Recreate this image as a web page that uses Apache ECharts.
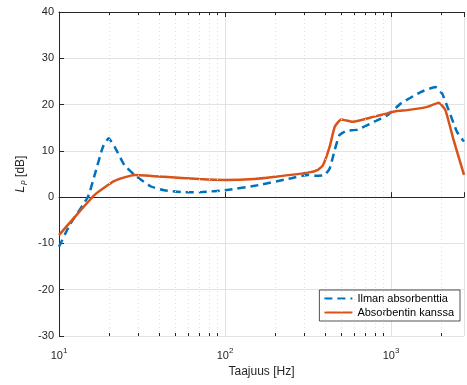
<!DOCTYPE html>
<html>
<head>
<meta charset="utf-8">
<script src="https://cdn.jsdelivr.net/npm/echarts@6/dist/echarts.min.js"></script>
<style>
  html, body { margin: 0; padding: 0; background: #fff; }
  #chart { width: 467px; height: 385px; }
</style>
</head>
<body>
<div id="chart"></div>
<script>
// values
const freqIlman = [10, 11.6, 14.96, 16.4, 18.4, 19.9, 21.6, 24.8, 28.5, 35.8, 43, 56.6, 72.8, 100, 159, 251, 316, 347, 398, 427, 458, 489, 536, 629, 792, 951, 1143, 1507, 1849, 2028, 2223, 2495, 2750];
const ilman = [-10.7, -6, 0.1, 4.8, 10.9, 12.7, 10.9, 6.9, 4.8, 2.3, 1.5, 1.05, 1.1, 1.5, 2.6, 4.1, 4.8, 4.6, 4.8, 6.2, 10.2, 13.4, 14.3, 14.6, 16.3, 17.7, 20.2, 22.7, 23.8, 22.4, 18.8, 14.1, 12.0];

const freqKanssa = [10, 12.5, 16.4, 21.6, 28.5, 43, 70, 100, 150, 200, 316, 363, 389, 427, 458, 500, 588, 792, 951, 1081, 1253, 1652, 1936, 2124, 2382, 2750];
const kanssa = [-8.2, -4.2, 0.5, 3.5, 4.8, 4.4, 3.9, 3.7, 3.9, 4.4, 5.3, 5.9, 6.9, 10.9, 15.2, 16.8, 16.3, 17.4, 18.1, 18.6, 18.8, 19.5, 20.4, 18.8, 12.3, 4.8];

const minorFreqs = [20, 30, 40, 50, 60, 70, 80, 90, 200, 300, 400, 500, 600, 700, 800, 900, 2000];
const seriesNames = ['Ilman absorbenttia', 'Absorbentin kanssa'];

const xMin = 10, xMax = 2750, yMin = -30, yMax = 40;
const txt = '#262626';

const pairs = (xs, ys) => xs.map((x, i) => [x, ys[i]]);

// minor grid lines (dotted) and minor tick marks at bottom and top
const minorLines = [];
minorFreqs.forEach(f => {
  minorLines.push([{ coord: [f, yMin] }, { coord: [f, yMax], lineStyle: { color: '#e3e3e3', type: [1, 3], width: 1 } }]);
  minorLines.push([{ coord: [f, yMin] }, { coord: [f, yMin + 0.65], lineStyle: { color: txt, type: 'solid', width: 1 } }]);
  minorLines.push([{ coord: [f, yMax] }, { coord: [f, yMax - 0.65], lineStyle: { color: txt, type: 'solid', width: 1 } }]);
});

const chart = echarts.init(document.getElementById('chart'));

const xLabel = (v) => {
  const lg = Math.log10(v);
  const e = Math.round(lg);
  if (Math.abs(lg - e) > 1e-6) return '';
  return '{b|10}{e|' + e + '}';
};

chart.setOption({
  animation: false,
  textStyle: { fontFamily: 'Liberation Sans, Arial, sans-serif' },
  grid: { left: 59, top: 12, right: 0, bottom: 49 },
  legend: {
    orient: 'vertical',
    right: 7,
    top: 290,
    data: seriesNames,
    backgroundColor: '#fff',
    borderColor: txt,
    borderWidth: 0.8,
    padding: [3, 6, 3, 4],
    itemWidth: 28,
    itemHeight: 12,
    itemGap: 3,
    itemStyle: { opacity: 0 },
    textStyle: { fontSize: 11, color: '#000' }
  },
  xAxis: [{
    type: 'log',
    logBase: 10,
    min: xMin,
    max: xMax,
    name: 'Taajuus [Hz]',
    nameLocation: 'middle',
    nameGap: 30,
    nameTextStyle: { fontSize: 12, color: txt },
    axisLine: { lineStyle: { color: txt, width: 1 } },
    axisTick: { inside: true, length: 5, lineStyle: { color: txt } },
    axisLabel: {
      margin: 10,
      formatter: xLabel,
      rich: {
        b: { fontSize: 11, color: txt, padding: [4, 0, 0, 0] },
        e: { fontSize: 8, color: txt, padding: [0, 0, 5, 0] }
      }
    },
    splitLine: { show: true, lineStyle: { color: '#e2e2e2', width: 1 } }
  }, {
    type: 'log',
    logBase: 10,
    min: xMin,
    max: xMax,
    position: 'top',
    axisLine: { lineStyle: { color: txt, width: 1 } },
    axisTick: { inside: true, length: 5, lineStyle: { color: txt } },
    axisLabel: { show: false },
    splitLine: { show: false }
  }],
  yAxis: {
    type: 'value',
    min: yMin,
    max: yMax,
    interval: 10,
    name: '{i|L}{s|p}{n| [dB]}',
    nameLocation: 'middle',
    nameRotate: 90,
    nameGap: 30,
    nameTextStyle: {
      color: txt,
      rich: {
        i: { fontSize: 12, fontStyle: 'italic', color: txt },
        s: { fontSize: 8, fontStyle: 'italic', color: txt, padding: [6, 0, 0, 1] },
        n: { fontSize: 12, color: txt }
      }
    },
    axisLine: { show: true, lineStyle: { color: txt, width: 1 } },
    axisTick: { show: true, inside: true, length: 5, lineStyle: { color: txt } },
    axisLabel: { fontSize: 11, color: txt, margin: 5 },
    splitLine: { show: true, lineStyle: { color: '#e2e2e2', width: 1 } }
  },
  series: [{
    name: 'minor',
    type: 'line',
    data: [],
    silent: true,
    markLine: {
      silent: true,
      symbol: ['none', 'none'],
      label: { show: false },
      animation: false,
      data: minorLines
    }
  }, {
    name: seriesNames[0],
    type: 'line',
    data: pairs(freqIlman, ilman),
    showSymbol: false,
    symbol: 'none',
    smooth: 0.15,
    color: '#0072BD',
    lineStyle: { color: '#0072BD', width: 2.5, type: [8, 5] },
    z: 3
  }, {
    name: seriesNames[1],
    type: 'line',
    data: pairs(freqKanssa, kanssa),
    showSymbol: false,
    symbol: 'none',
    smooth: 0.15,
    color: '#D95319',
    lineStyle: { color: '#D95319', width: 2.5 },
    z: 4
  }]
});
</script>
</body>
</html>
